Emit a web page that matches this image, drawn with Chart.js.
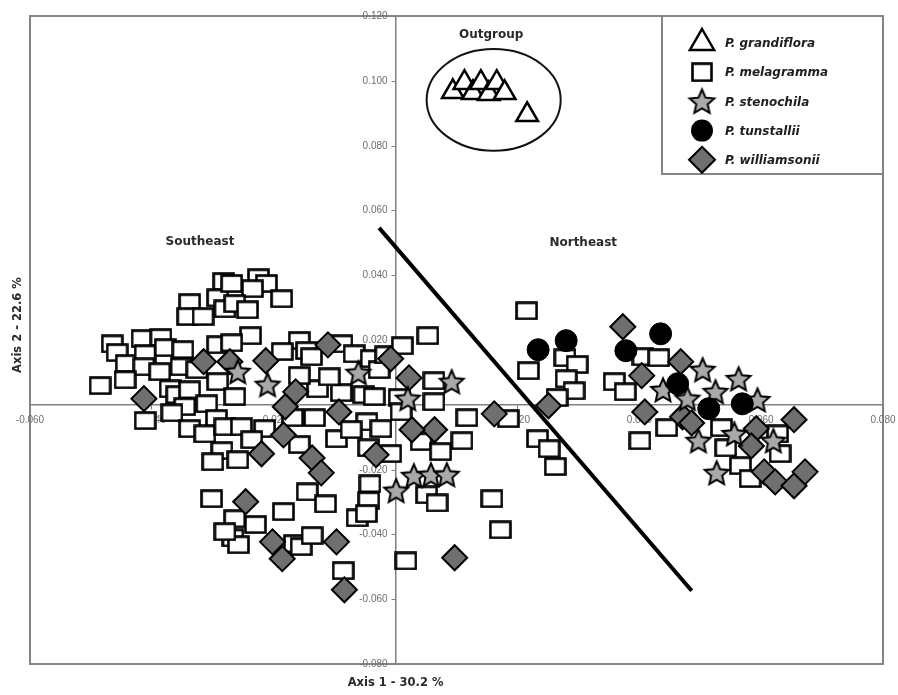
<!DOCTYPE html>
<html>
<head>
<meta charset="utf-8">
<title>PCoA – Pinguicula</title>
<script src="https://cdn.jsdelivr.net/npm/chart.js@4.4.1/dist/chart.umd.min.js"></script>
<style>
  html, body { margin: 0; padding: 0; background: #fff; }
  #wrap { width: 898px; height: 695px; }
</style>
</head>
<body>
<div id="wrap"><canvas id="pcoa" width="898" height="695"></canvas></div>
<script>
'use strict';

// ── Data: PCoA scores [Axis 1, Axis 2] per species ───────────────────────────
const grandiflora = [
  [0.0094, 0.0966], [0.0113, 0.0994], [0.0127, 0.0963], [0.0140, 0.0994],
  [0.0153, 0.0960], [0.0166, 0.0994], [0.0179, 0.0963], [0.0216, 0.0895]
];

const melagramma = [
  [-0.0282, 0.0380], [-0.0338, 0.0315], [-0.0292, 0.0330], [-0.0341, 0.0272], [-0.0316, 0.0272], [-0.0280, 0.0296],
  [-0.0465, 0.0188], [-0.0416, 0.0204], [-0.0385, 0.0207], [-0.0457, 0.0161], [-0.0442, 0.0127], [-0.0411, 0.0157],
  [-0.0378, 0.0176], [-0.0349, 0.0170], [-0.0413, 0.0117], [-0.0387, 0.0102], [-0.0352, 0.0117], [-0.0326, 0.0108],
  [-0.0292, 0.0185], [-0.0292, 0.0071], [-0.0370, 0.0049], [-0.0359, 0.0031], [-0.0338, 0.0046], [-0.0346, -0.0006],
  [-0.0367, -0.0025], [-0.0310, 0.0003], [-0.0294, -0.0043], [-0.0338, -0.0074], [-0.0313, -0.0090], [-0.0285, -0.0142],
  [-0.0280, -0.0068], [-0.0485, 0.0059], [-0.0411, -0.0049], [-0.0444, 0.0077], [-0.0300, -0.0176],
  [-0.0225, 0.0392], [-0.0212, 0.0374], [-0.0269, 0.0374], [-0.0235, 0.0358], [-0.0187, 0.0327], [-0.0264, 0.0312],
  [-0.0243, 0.0293], [-0.0238, 0.0213], [-0.0158, 0.0198], [-0.0146, 0.0167], [-0.0138, 0.0148], [-0.0088, 0.0188],
  [-0.0068, 0.0157], [-0.0269, 0.0191], [-0.0128, 0.0049], [-0.0089, 0.0037], [-0.0052, 0.0031], [-0.0035, 0.0025],
  [-0.0040, 0.0142], [-0.0027, 0.0108], [-0.0016, 0.0154], [0.0011, 0.0182], [0.0053, 0.0213], [0.0063, 0.0074],
  [0.0006, 0.0022], [0.0009, -0.0022], [-0.0133, -0.0040], [-0.0169, -0.0040], [-0.0264, 0.0025], [-0.0253, -0.0068],
  [-0.0215, -0.0074], [-0.0097, -0.0105], [-0.0047, -0.0053], [-0.0024, -0.0074], [-0.0044, -0.0133], [-0.0008, -0.0151],
  [0.0042, -0.0114], [0.0074, -0.0145], [0.0063, 0.0009],
  [-0.0158, 0.0090], [-0.0109, 0.0086], [-0.0186, 0.0164], [-0.0236, -0.0108], [-0.0259, -0.0170], [-0.0158, -0.0123],
  [-0.0073, -0.0077],
  [-0.0145, -0.0269], [-0.0115, -0.0306], [-0.0184, -0.0330], [-0.0264, -0.0352], [-0.0230, -0.0370], [-0.0267, -0.0411],
  [-0.0258, -0.0432], [-0.0166, -0.0429], [-0.0155, -0.0438], [-0.0137, -0.0404], [-0.0086, -0.0512], [-0.0042, -0.0244],
  [-0.0044, -0.0296], [-0.0063, -0.0349], [-0.0048, -0.0336], [0.0051, -0.0278], [0.0068, -0.0303], [0.0017, -0.0482],
  [0.0158, -0.0290], [0.0172, -0.0386], [0.0262, -0.0191], [-0.0302, -0.0290], [-0.0280, -0.0392],
  [0.0215, 0.0290], [0.0218, 0.0105], [0.0278, 0.0145], [0.0298, 0.0124], [0.0280, 0.0080], [0.0293, 0.0043],
  [0.0265, 0.0022], [0.0117, -0.0040], [0.0109, -0.0111], [0.0185, -0.0043], [0.0233, -0.0105], [0.0252, -0.0136],
  [0.0406, 0.0148], [0.0432, 0.0145], [0.0359, 0.0071], [0.0377, 0.0040], [0.0401, -0.0111], [0.0445, -0.0071],
  [0.0535, -0.0071], [0.0542, -0.0133], [0.0627, -0.0090], [0.0631, -0.0151], [0.0566, -0.0188], [0.0582, -0.0228]
];

const stenochila = [
  [-0.0259, 0.0102], [-0.0210, 0.0062], [-0.0061, 0.0099], [0.0020, 0.0019], [0.0092, 0.0071],
  [0.0001, -0.0265], [0.0030, -0.0219], [0.0058, -0.0216], [0.0084, -0.0216],
  [0.0439, 0.0046], [0.0504, 0.0108], [0.0563, 0.0080], [0.0594, 0.0015], [0.0525, 0.0040],
  [0.0479, 0.0019], [0.0497, -0.0111], [0.0556, -0.0090], [0.0620, -0.0111], [0.0527, -0.0210]
];

const tunstallii = [
  [0.0234, 0.0170], [0.0280, 0.0198], [0.0378, 0.0167], [0.0435, 0.0219],
  [0.0463, 0.0065], [0.0514, -0.0012], [0.0569, 0.0003]
];

const williamsonii = [
  [-0.0413, 0.0019], [-0.0315, 0.0133], [-0.0272, 0.0133], [-0.0213, 0.0136], [-0.0164, 0.0040], [-0.0181, -0.0006],
  [-0.0111, 0.0185], [-0.0008, 0.0142], [0.0022, 0.0083], [0.0064, -0.0077], [0.0027, -0.0077], [-0.0093, -0.0022],
  [-0.0184, -0.0093], [-0.0220, -0.0151], [-0.0137, -0.0164], [-0.0032, -0.0154], [-0.0122, -0.0210], [-0.0246, -0.0299],
  [-0.0202, -0.0423], [-0.0186, -0.0475], [-0.0097, -0.0423], [-0.0084, -0.0571], [0.0097, -0.0472], [0.0162, -0.0028],
  [0.0251, -0.0003], [0.0373, 0.0241], [0.0404, 0.0090], [0.0409, -0.0022], [0.0468, 0.0133], [0.0471, -0.0037],
  [0.0486, -0.0056], [0.0592, -0.0074], [0.0584, -0.0127], [0.0654, -0.0046], [0.0605, -0.0207], [0.0623, -0.0238],
  [0.0654, -0.0250], [0.0672, -0.0207]
];

// Separating line drawn between the Southeast and Northeast groups
const dividerX = [-0.0027, 0.0486];
const dividerY = [0.0546, -0.0574];

// Axis ticks
const xTicks = [-0.06, -0.04, -0.02, 0, 0.02, 0.04, 0.06, 0.08];
const yTicks = [-0.08, -0.06, -0.04, -0.02, 0, 0.02, 0.04, 0.06, 0.08, 0.10, 0.12];

const AXIS_X_TITLE = 'Axis 1 - 30.2 %';
const AXIS_Y_TITLE = 'Axis 2 - 22.6 %';

// Region annotations (data coordinates)
const regionLabels = [
  { text: 'Southeast', x: -0.0321, y: 0.0503 },
  { text: 'Northeast', x: 0.0308, y: 0.0500 },
  { text: 'Outgroup', x: 0.0157, y: 0.1142 }
];
const outgroupRing = { cx: 0.0161, cy: 0.0941, rx: 0.0110, ry: 0.0157 };

// ── Marker images ─────────────────────────────────────────────────────────────
function makeRect(w, h) {
  const c = document.createElement('canvas');
  c.width = w + 3; c.height = h + 3;
  const g = c.getContext('2d');
  g.fillStyle = '#fff';
  g.strokeStyle = '#000';
  g.lineWidth = 2.6;
  g.fillRect(1.5, 1.5, w, h);
  g.strokeRect(1.5, 1.5, w, h);
  return c;
}

function makeStar(outer, inner, fill) {
  const size = Math.ceil(outer * 2 + 5);
  const c = document.createElement('canvas');
  c.width = size; c.height = size;
  const g = c.getContext('2d');
  const cx = size / 2, cy = size / 2 + 1;
  g.beginPath();
  for (let i = 0; i < 10; i++) {
    const r = i % 2 ? inner : outer;
    const a = -Math.PI / 2 + i * Math.PI / 5;
    const px = cx + r * Math.cos(a), py = cy + r * Math.sin(a);
    if (i === 0) g.moveTo(px, py); else g.lineTo(px, py);
  }
  g.closePath();
  g.fillStyle = fill;
  g.fill();
  g.lineWidth = 2;
  g.strokeStyle = '#000';
  g.stroke();
  return c;
}

const rectImg   = makeRect(20, 16);
const starImg   = makeStar(12.5, 5.8, '#a9a9a9');
const legRect   = makeRect(19, 17);
const legStar   = makeStar(13, 6, '#a9a9a9');

function pts(arr) {
  return arr.map(function (p) { return { x: p[0], y: p[1] }; });
}

function tickLabel(v) {
  return Math.abs(v) < 1e-9 ? '' : Number(v).toFixed(3);
}

// Positioned scales add label overhang to the layout; keep the plot box fixed.
function noOverhang(s) {
  s.paddingLeft = 0; s.paddingRight = 0; s.paddingTop = 0; s.paddingBottom = 0;
}

// ── Overlay plugin: frame, y tick labels, ring, labels, legend, titles ───────
const overlay = {
  id: 'overlay',
  beforeDraw(chart) {
    const { ctx, chartArea: a } = chart;
    ctx.save();
    ctx.strokeStyle = '#858585';
    ctx.lineWidth = 2;
    ctx.strokeRect(a.left, a.top, a.right - a.left, a.bottom - a.top);
    ctx.restore();
  },
  beforeDatasetsDraw(chart) {
    // y tick marks + labels, left of the vertical axis (under the markers)
    const { ctx, scales: { x, y } } = chart;
    const ax = x.getPixelForValue(0);
    ctx.save();
    ctx.strokeStyle = '#808080';
    ctx.lineWidth = 1;
    ctx.fillStyle = '#6e6e6e';
    ctx.font = '10px "Liberation Sans", Arial, sans-serif';
    ctx.textAlign = 'right';
    ctx.textBaseline = 'middle';
    yTicks.forEach(function (v) {
      const py = Math.round(y.getPixelForValue(v)) + 0.5;
      ctx.beginPath();
      ctx.moveTo(ax - 4, py);
      ctx.lineTo(ax, py);
      ctx.stroke();
      const t = tickLabel(v);
      if (t) ctx.fillText(t, ax - 8, py);
    });
    ctx.restore();
  },
  afterDatasetsDraw(chart) {
    const { ctx, scales: { x, y } } = chart;
    ctx.save();
    // outgroup ring
    const cx = x.getPixelForValue(outgroupRing.cx);
    const cy = y.getPixelForValue(outgroupRing.cy);
    const rx = x.getPixelForValue(outgroupRing.cx + outgroupRing.rx) - cx;
    const ry = cy - y.getPixelForValue(outgroupRing.cy + outgroupRing.ry);
    ctx.beginPath();
    ctx.ellipse(cx, cy, rx, ry, 0, 0, Math.PI * 2);
    ctx.lineWidth = 2;
    ctx.strokeStyle = '#111';
    ctx.stroke();
    // region labels
    ctx.font = 'bold 12px "DejaVu Sans", sans-serif';
    ctx.fillStyle = '#2a2a2a';
    ctx.textAlign = 'center';
    ctx.textBaseline = 'middle';
    regionLabels.forEach(function (l) {
      ctx.fillText(l.text, x.getPixelForValue(l.x), y.getPixelForValue(l.y));
    });
    ctx.restore();
  },
  afterDraw(chart) {
    const { ctx, chartArea: a, scales: { x } } = chart;
    ctx.save();

    // legend box
    const w = 221, h = 158;
    const lx = a.right - w, ly = a.top;
    ctx.fillStyle = '#fff';
    ctx.fillRect(lx, ly, w, h);
    ctx.strokeStyle = '#858585';
    ctx.lineWidth = 2;
    ctx.strokeRect(lx, ly, w, h);

    const names = ['P. grandiflora', 'P. melagramma', 'P. stenochila', 'P. tunstallii', 'P. williamsonii'];
    ctx.font = 'italic bold 12px "DejaVu Sans", sans-serif';
    ctx.textAlign = 'left';
    ctx.textBaseline = 'middle';
    names.forEach(function (name, i) {
      const mx = lx + 40, my = ly + 27 + i * 29.2;
      ctx.lineWidth = 2.5;
      ctx.strokeStyle = '#000';
      if (i === 0) {
        const r = 14;
        ctx.beginPath();
        ctx.moveTo(mx, my - r);
        ctx.lineTo(mx + r * 0.866, my + r * 0.5);
        ctx.lineTo(mx - r * 0.866, my + r * 0.5);
        ctx.closePath();
        ctx.fillStyle = '#fff';
        ctx.fill();
        ctx.stroke();
      } else if (i === 1) {
        ctx.drawImage(legRect, mx - legRect.width / 2, my - legRect.height / 2);
      } else if (i === 2) {
        ctx.drawImage(legStar, mx - legStar.width / 2, my - legStar.height / 2);
      } else if (i === 3) {
        ctx.beginPath();
        ctx.arc(mx, my, 11, 0, Math.PI * 2);
        ctx.fillStyle = '#000';
        ctx.fill();
      } else {
        const r = 13;
        ctx.beginPath();
        ctx.moveTo(mx, my - r);
        ctx.lineTo(mx + r, my);
        ctx.lineTo(mx, my + r);
        ctx.lineTo(mx - r, my);
        ctx.closePath();
        ctx.fillStyle = '#6f6f6f';
        ctx.fill();
        ctx.lineWidth = 2;
        ctx.stroke();
      }
      ctx.fillStyle = '#1e1e1e';
      ctx.fillText(name, lx + 63, my + 1);
    });

    // axis titles
    ctx.font = 'bold 11.5px "DejaVu Sans", sans-serif';
    ctx.fillStyle = '#2a2a2a';
    ctx.textAlign = 'center';
    ctx.textBaseline = 'middle';
    ctx.fillText(AXIS_X_TITLE, x.getPixelForValue(0), a.bottom + 19);
    ctx.translate(18, (a.top + a.bottom) / 2 - 15);
    ctx.rotate(-Math.PI / 2);
    ctx.fillText(AXIS_Y_TITLE, 0, 0);
    ctx.restore();
  }
};

// ── Chart ────────────────────────────────────────────────────────────────────
const tickFont = { family: '"Liberation Sans", Arial, sans-serif', size: 10 };

new Chart(document.getElementById('pcoa'), {
  type: 'scatter',
  data: {
    datasets: [
      {
        label: 'divider',
        data: [{ x: dividerX[0], y: dividerY[0] }, { x: dividerX[1], y: dividerY[1] }],
        showLine: true,
        borderColor: '#000',
        borderWidth: 4,
        pointRadius: 0,
        order: 0
      },
      {
        label: 'P. grandiflora',
        data: pts(grandiflora),
        pointStyle: 'triangle',
        pointRadius: 12.5,
        backgroundColor: '#fff',
        borderColor: '#000',
        borderWidth: 2.5,
        order: 1
      },
      {
        label: 'P. melagramma',
        data: pts(melagramma),
        pointStyle: rectImg,
        order: 5
      },
      {
        label: 'P. stenochila',
        data: pts(stenochila),
        pointStyle: starImg,
        order: 3
      },
      {
        label: 'P. tunstallii',
        data: pts(tunstallii),
        pointStyle: 'circle',
        pointRadius: 11,
        backgroundColor: '#000',
        borderColor: '#000',
        borderWidth: 1,
        order: 2
      },
      {
        label: 'P. williamsonii',
        data: pts(williamsonii),
        pointStyle: 'rectRot',
        pointRadius: 12.5,
        backgroundColor: '#6f6f6f',
        borderColor: '#000',
        borderWidth: 2,
        order: 4
      }
    ]
  },
  options: {
    responsive: false,
    animation: false,
    events: [],
    layout: { padding: { left: 30, top: 16, right: 9, bottom: 31 } },
    plugins: {
      legend: { display: false },
      tooltip: { enabled: false }
    },
    scales: {
      x: {
        type: 'linear',
        min: -0.06,
        max: 0.08,
        position: { y: 0 },
        afterBuildTicks: function (s) { s.ticks = xTicks.map(function (v) { return { value: v }; }); },
        afterFit: noOverhang,
        grid: { drawOnChartArea: false, color: '#808080', tickLength: 4 },
        border: { color: '#808080', width: 1.5 },
        ticks: { font: tickFont, color: '#6e6e6e', padding: 5, autoSkip: false, maxRotation: 0, callback: tickLabel }
      },
      y: {
        type: 'linear',
        min: -0.08,
        max: 0.12,
        position: { x: 0 },
        afterBuildTicks: function (s) { s.ticks = yTicks.map(function (v) { return { value: v }; }); },
        afterFit: noOverhang,
        grid: { display: false },
        border: { display: true, color: '#808080', width: 1.5 },
        ticks: { display: false }
      }
    }
  },
  plugins: [overlay]
});
</script>
</body>
</html>
